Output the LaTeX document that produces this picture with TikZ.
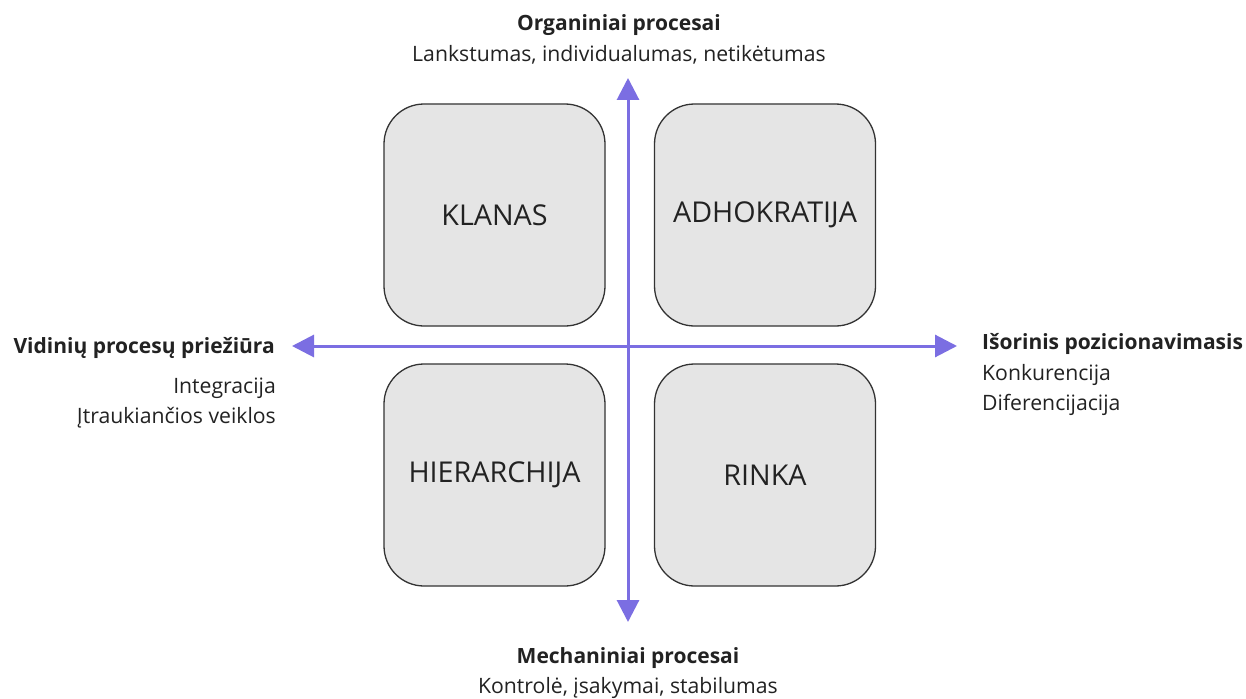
\documentclass[tikz,border=0pt]{standalone}
\usepackage{fontspec}
\setmainfont{Open Sans}
\usetikzlibrary{arrows.meta}
\definecolor{axis}{RGB}{123,110,226}
\definecolor{boxfill}{RGB}{229,229,229}
\definecolor{boxline}{RGB}{51,51,51}
\definecolor{ink}{RGB}{34,34,34}
\tikzset{
  quad/.style={draw=boxline, line width=1.3pt, fill=boxfill, rounded corners=40pt,
    minimum width=221pt, minimum height=222pt, inner sep=0pt,
    font=\fontsize{28.7}{32}\selectfont, text=ink},
  axisline/.style={draw=axis, line width=3pt, -{Triangle[length=22pt,width=22pt]}},
  title/.style={font=\bfseries\fontsize{21}{25}\selectfont, text=ink, inner sep=0pt},
  sub/.style={font=\fontsize{21.2}{25}\selectfont, text=ink, inner sep=0pt},
}
\begin{document}
\begin{tikzpicture}[x=1pt,y=-1pt]
\useasboundingbox[fill=white] (0,0) rectangle (1246,698);
% quadrant boxes
\node[quad] (klan) at (494.5,215) {KLANAS};
\node[quad] (adho) at (765,215) {ADHOKRATIJA};
\node[quad] (hier) at (494.5,475) {HIERARCHIJA};
\node[quad] (rink) at (765,475) {RINKA};
% axes
\coordinate (c) at (628,346);
\coordinate (top) at (628,78);
\coordinate (bot) at (628,622);
\coordinate (lft) at (292,346);
\coordinate (rgt) at (957,346);
\draw[axisline] (c) -- (top);
\draw[axisline] (c) -- (bot);
\draw[axisline] (c) -- (lft);
\draw[axisline] (c) -- (rgt);
% axis labels
\node[title] (ttop) at (619,25) {Organiniai procesai};
\node[sub] (stop) at (619,55) {Lankstumas, individualumas, netikėtumas};
\node[title] (tbot) at (628,658) {Mechaniniai procesai};
\node[sub] (sbot) at (628,688) {Kontrolė, įsakymai, stabilumas};
\node[title, anchor=east] (tlft) at (275,348) {Vidinių procesų priežiūra};
\node[sub, anchor=east] (slft1) at (276,388) {Integracija};
\node[sub, anchor=east] (slft2) at (276,418) {Įtraukiančios veiklos};
\node[title, anchor=west] (trgt) at (982,344) {Išorinis pozicionavimasis};
\node[sub, anchor=west] (srgt1) at (982,375) {Konkurencija};
\node[sub, anchor=west] (srgt2) at (982,405) {Diferencijacija};
\end{tikzpicture}
\end{document}
